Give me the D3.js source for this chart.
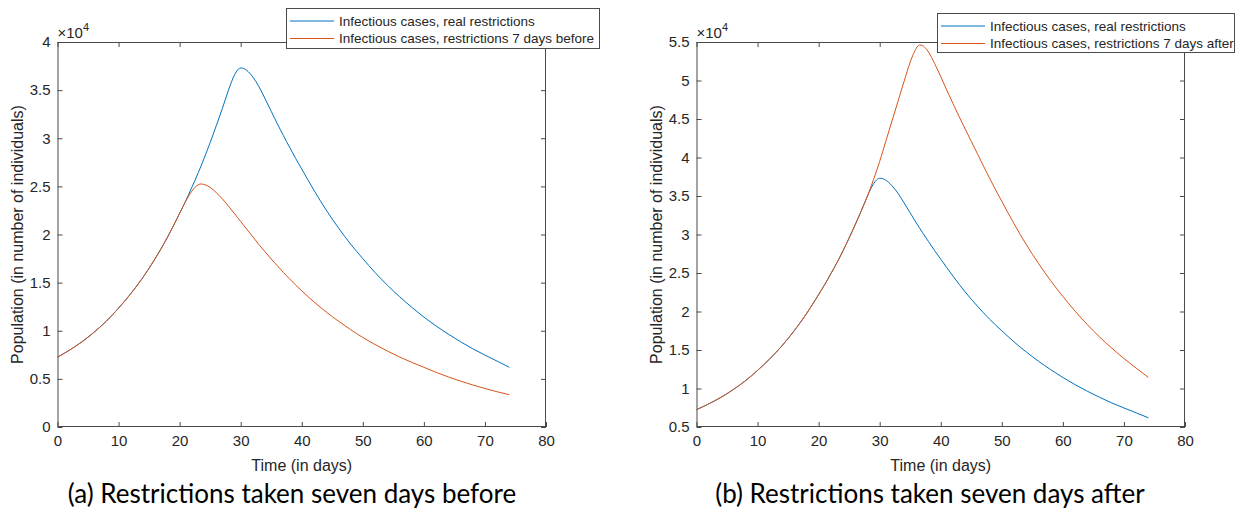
<!DOCTYPE html>
<html>
<head>
<meta charset="utf-8">
<script src="https://cdn.jsdelivr.net/npm/d3@7"></script>
<style>
  html, body { margin: 0; padding: 0; background: #fff; }
  svg { display: block; }
</style>
</head>
<body>
<svg id="chart" width="1245" height="524"></svg>
<script>
// ---------- DATA (values in units of 10^4 individuals) ----------
const days = [0,2,4,6,8,10,12,14,16,18,20,21,22,22.5,23,23.5,24,25,26,27,28,29,29.5,30,30.5,31,32,33,34,35,35.5,36,36.5,37,37.5,38,39,40,42,44,46,48,50,52,54,56,58,60,62,64,66,68,70,72,74];

const realRestrictions = [0.725,0.80,0.885,0.985,1.10,1.235,1.385,1.555,1.75,1.97,2.22,2.35,2.49,2.56,2.635,2.71,2.79,2.955,3.13,3.31,3.50,3.66,3.71,3.73,3.725,3.705,3.635,3.535,3.41,3.28,3.215,3.15,3.088,3.027,2.967,2.908,2.79,2.68,2.46,2.254,2.07,1.90,1.75,1.605,1.475,1.355,1.245,1.143,1.05,0.965,0.886,0.813,0.747,0.684,0.62];

const restrictionsBefore = [0.725,0.80,0.885,0.985,1.10,1.235,1.385,1.555,1.75,1.97,2.22,2.345,2.45,2.49,2.515,2.525,2.52,2.49,2.435,2.37,2.295,2.215,2.175,2.135,2.095,2.055,1.975,1.895,1.82,1.745,1.71,1.675,1.64,1.605,1.572,1.54,1.475,1.415,1.30,1.195,1.10,1.012,0.93,0.857,0.79,0.728,0.672,0.62,0.568,0.52,0.477,0.437,0.40,0.366,0.335];

const restrictionsAfter = [0.725,0.80,0.885,0.985,1.10,1.235,1.385,1.555,1.75,1.97,2.22,2.35,2.49,2.56,2.635,2.71,2.79,2.955,3.13,3.31,3.50,3.715,3.83,3.95,4.08,4.21,4.47,4.73,4.99,5.24,5.34,5.42,5.46,5.455,5.42,5.37,5.22,5.05,4.70,4.37,4.05,3.73,3.43,3.14,2.87,2.625,2.40,2.195,2.005,1.83,1.67,1.525,1.39,1.265,1.144];

const xTickValues = [0,10,20,30,40,50,60,70,80];
const yTicksA = [0,0.5,1,1.5,2,2.5,3,3.5,4];
const yTicksB = [0.5,1,1.5,2,2.5,3,3.5,4,4.5,5,5.5];

const seriesLabelsA = ["Infectious cases, real restrictions", "Infectious cases, restrictions 7 days before"];
const seriesLabelsB = ["Infectious cases, real restrictions", "Infectious cases, restrictions 7 days after"];
const xAxisTitle = "Time (in days)";
const yAxisTitle = "Population (in number of individuals)";
const captions = ["(a) Restrictions taken seven days before", "(b) Restrictions taken seven days after"];

// ---------- DRAWING ----------
const BLUE = "#0072BD", ORANGE = "#D95319";
const AXIS = "#4a4a4a", TEXT = "#262626";
const FONT = "'Liberation Sans', Arial, Helvetica, sans-serif";
const svg = d3.select("#chart");
svg.append("rect").attr("width", 1245).attr("height", 524).attr("fill", "#fff");

function panel(cfg) {
  const g = svg.append("g");
  const x = d3.scaleLinear().domain([0, 80]).range([cfg.x0, cfg.x1]);
  const y = d3.scaleLinear().domain(cfg.yDomain).range([cfg.y1, cfg.y0]);
  const fmt = d => String(d);

  const ax = (axis, tr, labels) => {
    const a = g.append("g").attr("transform", tr)
      .call(axis.tickSizeInner(-5).tickSizeOuter(0))
      .call(s => s.select(".domain").remove());
    a.selectAll(".tick line").attr("stroke", AXIS);
    a.selectAll("text").attr("fill", TEXT).style("font-family", FONT).style("font-size", "15px");
    if (!labels) a.selectAll("text").remove();
    return a;
  };
  ax(d3.axisBottom(x).tickValues(xTickValues).tickFormat(fmt).tickPadding(8), `translate(0,${cfg.y1})`, true);
  ax(d3.axisTop(x).tickValues(xTickValues), `translate(0,${cfg.y0})`, false);
  ax(d3.axisLeft(y).tickValues(cfg.yTicks).tickFormat(fmt).tickPadding(7), `translate(${cfg.x0},0)`, true);
  ax(d3.axisRight(y).tickValues(cfg.yTicks), `translate(${cfg.x1},0)`, false);

  g.append("rect").attr("x", cfg.x0 + 0.5).attr("y", cfg.y0 + 0.5)
    .attr("width", cfg.x1 - cfg.x0 - 1).attr("height", cfg.y1 - cfg.y0 - 1)
    .attr("fill", "none").attr("stroke", AXIS).attr("stroke-width", 1);

  const line = d3.line().x((d, i) => x(days[i])).y(d => y(d)).curve(d3.curveMonotoneX);
  cfg.series.forEach(s => {
    g.append("path").datum(s.values).attr("d", line)
      .attr("fill", "none").attr("stroke", s.color).attr("stroke-width", 1);
  });

  // exponent label
  const ex = g.append("text").attr("x", cfg.x0).attr("y", cfg.y0 - 4)
    .attr("fill", TEXT).style("font-family", FONT).style("font-size", "15px");
  ex.append("tspan").text("\u00D710");
  ex.append("tspan").attr("dy", -7).style("font-size", "11px").text("4");

  // axis titles
  g.append("text").attr("x", (cfg.x0 + cfg.x1) / 2).attr("y", cfg.y1 + 44)
    .attr("text-anchor", "middle").attr("fill", TEXT)
    .style("font-family", FONT).style("font-size", "16px").text(xAxisTitle);
  g.append("text").attr("transform", `translate(${cfg.x0 - 35},${(cfg.y0 + cfg.y1) / 2}) rotate(-90)`)
    .attr("text-anchor", "middle").attr("fill", TEXT)
    .style("font-family", FONT).style("font-size", "16px").text(yAxisTitle);

  // legend
  const L = cfg.legend;
  g.append("rect").attr("x", L.x + 0.5).attr("y", L.y + 0.5).attr("width", L.w).attr("height", L.h)
    .attr("fill", "#fff").attr("stroke", AXIS).attr("stroke-width", 1);
  cfg.series.forEach((s, i) => {
    const cy = L.y + 13 + i * 17.5;
    g.append("line").attr("x1", L.x + 4).attr("x2", L.x + 48).attr("y1", cy).attr("y2", cy)
      .attr("stroke", s.color).attr("stroke-width", 1);
    g.append("text").attr("x", L.x + 53).attr("y", cy + 4.8).attr("fill", TEXT)
      .style("font-family", FONT).style("font-size", "13.5px").text(s.label);
  });

  // caption
  svg.append("text").attr("x", cfg.capX).attr("y", 503).attr("text-anchor", "middle")
    .attr("fill", "#000").style("font-family", "Lato, 'Open Sans', sans-serif")
    .style("font-size", "26px").text(cfg.caption);
}

panel({
  x0: 57.5, x1: 546, y0: 42, y1: 427, yDomain: [0, 4], yTicks: yTicksA,
  series: [
    { values: realRestrictions, color: BLUE, label: seriesLabelsA[0] },
    { values: restrictionsBefore, color: ORANGE, label: seriesLabelsA[1] }
  ],
  legend: { x: 286, y: 8, w: 313, h: 40 },
  caption: captions[0], capX: 292
});

panel({
  x0: 696.5, x1: 1185, y0: 42, y1: 427, yDomain: [0.5, 5.5], yTicks: yTicksB,
  series: [
    { values: realRestrictions, color: BLUE, label: seriesLabelsB[0] },
    { values: restrictionsAfter, color: ORANGE, label: seriesLabelsB[1] }
  ],
  legend: { x: 937, y: 13, w: 297, h: 39 },
  caption: captions[1], capX: 930
});
</script>
</body>
</html>
